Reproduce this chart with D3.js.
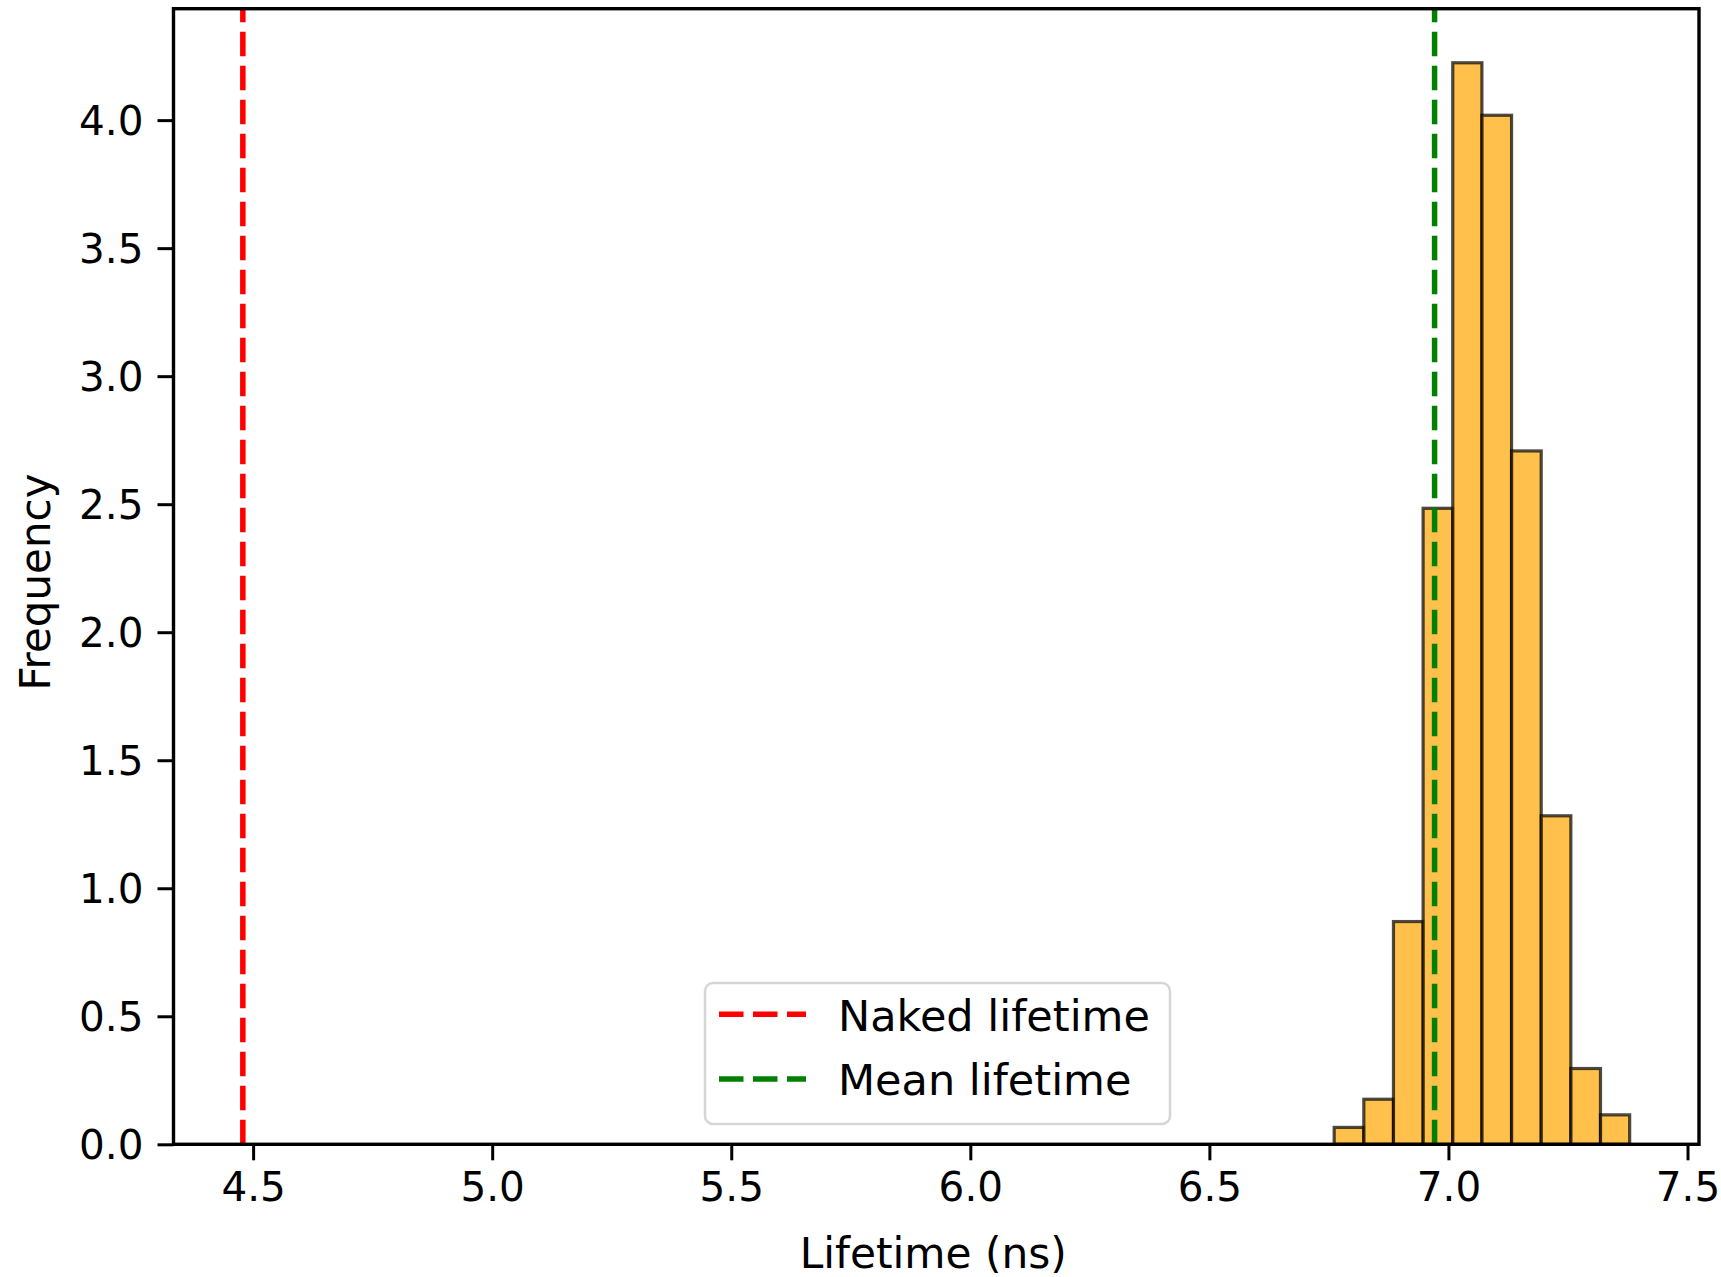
<!DOCTYPE html>
<html>
<head>
<meta charset="utf-8">
<script src="https://cdn.jsdelivr.net/npm/d3@7"></script>
<style>
  body { margin: 0; background: #fff; }
  text { font-family: "DejaVu Sans", sans-serif; fill: #000; }
</style>
</head>
<body>
<script>
// Histogram of fitted lifetimes (density-normalised)
const binEdges = [6.761, 6.823, 6.885, 6.947, 7.009, 7.070, 7.132, 7.194, 7.256, 7.318, 7.379];
const densities = [0.066, 0.176, 0.870, 2.484, 4.224, 4.019, 2.708, 1.283, 0.296, 0.115];

// Reference lines
const nakedLifetime = 4.4785;
const meanLifetime = 6.971;

// Axis ticks and labels
const xTicks = [4.5, 5.0, 5.5, 6.0, 6.5, 7.0, 7.5];
const yTicks = [0.0, 0.5, 1.0, 1.5, 2.0, 2.5, 3.0, 3.5, 4.0];
const xLabel = "Lifetime (ns)";
const yLabel = "Frequency";
const legendLabels = ["Naked lifetime", "Mean lifetime"];
const legendColors = ["#ff0000", "#008000"];

const W = 1721, H = 1277;
const plot = { left: 173.5, top: 8.7, right: 1699, bottom: 1144.3 };

// Autoscale with 5% margins around the data, like a default plot
const xMin = Math.min(nakedLifetime, binEdges[0]);
const xMax = Math.max(meanLifetime, binEdges[binEdges.length - 1]);
const xPad = 0.05 * (xMax - xMin);
const yMax = d3.max(densities) * 1.05;

const x = d3.scaleLinear().domain([xMin - xPad, xMax + xPad]).range([plot.left, plot.right]);
const y = d3.scaleLinear().domain([0, yMax]).range([plot.bottom, plot.top]);

const svg = d3.select("body").append("svg")
  .attr("width", W).attr("height", H)
  .style("display", "block");

svg.append("rect").attr("width", W).attr("height", H).attr("fill", "#fff");

const bins = densities.map((d, i) => ({ x0: binEdges[i], x1: binEdges[i + 1], v: d }));

// Bars
svg.append("g").selectAll("rect").data(bins).join("rect")
  .attr("x", d => x(d.x0))
  .attr("y", d => y(d.v))
  .attr("width", d => x(d.x1) - x(d.x0))
  .attr("height", d => y(0) - y(d.v))
  .attr("fill", "#ffa500").attr("fill-opacity", 0.7)
  .attr("stroke", "#000").attr("stroke-opacity", 0.7)
  .attr("stroke-width", 3.2);

// Vertical dashed reference lines, drawn bottom to top
const refLines = [nakedLifetime, meanLifetime];
svg.append("g").selectAll("line").data(refLines).join("line")
  .attr("x1", d => x(d)).attr("x2", d => x(d))
  .attr("y1", y(0)).attr("y2", plot.top)
  .attr("stroke", (d, i) => legendColors[i])
  .attr("stroke-width", 5.5)
  .attr("stroke-dasharray", "24.5 9.5");

// Axes
const fmt = d3.format(".1f");
const xAxis = svg.append("g")
  .attr("transform", `translate(0,${plot.bottom})`)
  .call(d3.axisBottom(x).tickValues(xTicks).tickFormat(fmt).tickSize(16).tickPadding(12));
const yAxis = svg.append("g")
  .attr("transform", `translate(${plot.left},0)`)
  .call(d3.axisLeft(y).tickValues(yTicks).tickFormat(fmt).tickSize(16).tickPadding(14));

[xAxis, yAxis].forEach(g => {
  g.select(".domain").remove();
  g.selectAll(".tick line").attr("stroke", "#000").attr("stroke-width", 3);
  g.selectAll(".tick text")
    .attr("font-family", "DejaVu Sans")
    .attr("font-size", 40.5)
    .attr("fill", "#000");
});
yAxis.selectAll(".tick text").attr("dy", "0.36em");

// Frame
svg.append("rect")
  .attr("x", plot.left).attr("y", plot.top)
  .attr("width", plot.right - plot.left).attr("height", plot.bottom - plot.top)
  .attr("fill", "none").attr("stroke", "#000").attr("stroke-width", 3.4);

// Axis titles
svg.append("text")
  .attr("x", (plot.left + plot.right) / 2 - 3).attr("y", 1268)
  .attr("text-anchor", "middle").attr("font-size", 42.3)
  .text(xLabel);
svg.append("text")
  .attr("transform", "translate(50,582) rotate(-90)")
  .attr("text-anchor", "middle").attr("font-size", 42)
  .text(yLabel);

// Legend
const legend = svg.append("g");
legend.append("rect")
  .attr("x", 705).attr("y", 983)
  .attr("width", 465).attr("height", 141)
  .attr("rx", 8).attr("ry", 8)
  .attr("fill", "#fff").attr("fill-opacity", 0.8)
  .attr("stroke", "#d6d6d6").attr("stroke-width", 2.5);
const rows = legend.selectAll("g.row").data(legendLabels).join("g")
  .attr("class", "row")
  .attr("transform", (d, i) => `translate(0,${i * 64.7})`);
rows.append("line")
  .attr("x1", 719).attr("x2", 806)
  .attr("y1", 1014.3).attr("y2", 1014.3)
  .attr("stroke", (d, i) => legendColors[i])
  .attr("stroke-width", 5.5)
  .attr("stroke-dasharray", "24.5 9.5");
rows.append("text")
  .attr("x", 838).attr("y", 1030.7)
  .attr("font-size", 43)
  .text(d => d);
</script>
</body>
</html>
